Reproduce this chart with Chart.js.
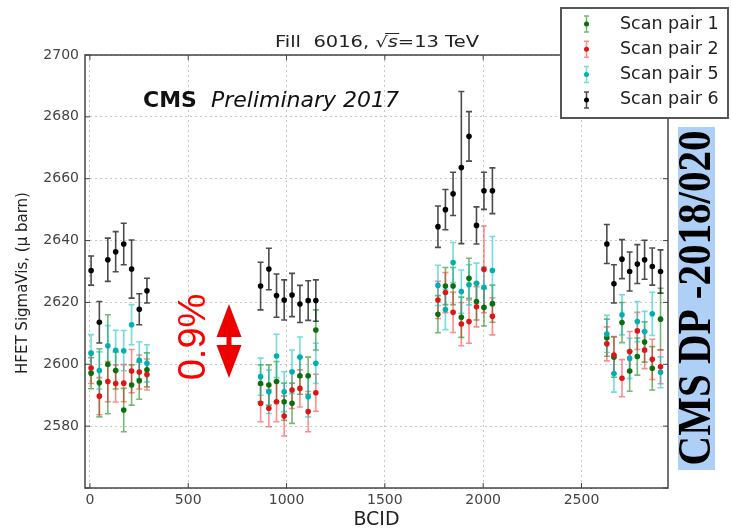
<!DOCTYPE html>
<html>
<head>
<meta charset="utf-8">
<script src="https://cdn.jsdelivr.net/npm/chart.js@4.4.1/dist/chart.umd.min.js"></script>
<style>
  html, body { margin: 0; padding: 0; background: #fff; }
  canvas { display: block; }
</style>
</head>
<body>
<canvas id="chart" width="731" height="531"></canvas>
<script>
// bunch crossing IDs, four trains of 8 bunches
const bcid = [
  6, 48, 91, 131, 172, 212, 251, 290,
  868, 910, 949, 988, 1028, 1068, 1110, 1149,
  1770, 1808, 1847, 1889, 1928, 1966, 2004, 2047,
  2629, 2665, 2706, 2745, 2784, 2821, 2860, 2902
];

const pair1 = [
  2597.1, 2594.0, 2600.0, 2598.0, 2585.2, 2593.3, 2594.7, 2598.2,
  2593.8, 2593.3, 2594.4, 2587.9, 2587.4, 2596.3, 2596.3, 2611.1,
  2616.2, 2625.3, 2625.3, 2615.2, 2627.8, 2620.3, 2618.4, 2619.6,
  2608.6, 2602.3, 2613.5, 2597.8, 2602.5, 2607.2, 2598.7, 2614.6
];
const pair1Err = [
  5, 11, 16, 6, 7, 6.5, 6, 5.5,
  6, 6.5, 6.5, 6, 6.5, 6, 6, 6.5,
  6, 6, 6, 6.5, 6.5, 6, 6, 6,
  6, 6.5, 6.5, 6.5, 6, 6.5, 7, 10
];

const pair2 = [
  2598.8, 2589.7, 2594.4, 2593.8, 2593.9, 2597.8, 2597.5, 2596.7,
  2587.4, 2585.8, 2587.9, 2583.3, 2591.7, 2592.2, 2584.7, 2590.8,
  2620.8, 2623.2, 2616.8, 2613.0, 2613.8, 2618.6, 2630.7, 2615.5,
  2606.6, 2603.0, 2595.5, 2604.1, 2610.8, 2604.6, 2601.6, 2599.2
];
const pair2Err = [
  5, 6, 6.5, 6, 6, 7, 5.5, 5,
  6, 6, 6.5, 6.5, 6, 6, 6.5, 6,
  6, 6.5, 6.5, 7, 7, 6.5, 14, 6,
  5.5, 6, 6, 6.5, 6, 6, 6.5, 5.5
];

const pair5 = [
  2603.6, 2598.0, 2606.0, 2604.5, 2604.4, 2612.8, 2601.3, 2600.3,
  2596.0, 2591.1, 2602.7, 2591.1, 2597.6, 2602.3, 2589.5, 2600.3,
  2625.5, 2617.7, 2632.9, 2623.5, 2625.7, 2626.2, 2624.9, 2630.3,
  2609.8, 2597.0, 2616.0, 2601.9, 2613.8, 2610.6, 2616.3, 2597.4
];
const pair5Err = [
  6, 6, 6.5, 6.5, 6.5, 6.5, 6, 6,
  6, 7, 7, 6.5, 7, 6.5, 6.5, 6.5,
  6.5, 6.5, 6.5, 7, 6.5, 6.5, 6.5, 11,
  6, 6, 6.5, 6.5, 6.5, 6.5, 7, 5
];

const pair6 = [
  2630.3, 2613.6, 2633.8, 2636.4, 2638.9, 2630.8, 2617.8, 2623.8,
  2625.3, 2630.8, 2622.2, 2620.8, 2622.4, 2619.5, 2620.6, 2620.6,
  2644.5, 2650.0, 2655.1, 2663.6, 2673.7, 2644.9, 2656.1, 2656.1,
  2638.9, 2626.0, 2634.0, 2630.0, 2632.4, 2633.8, 2631.6, 2630.0
];
const pair6Err = [
  4.7, 6.7, 7, 6.5, 6.7, 9.4, 5, 4,
  7.7, 6.7, 7, 6.5, 7, 6, 6.4, 6.7,
  6.7, 6.5, 7, 24.6, 8, 6, 6, 7.4,
  6.3, 6.2, 6.3, 6.3, 6.3, 6.3, 6, 7
];

const xTicks = [0, 500, 1000, 1500, 2000, 2500];
const yTicks = [2560, 2580, 2600, 2620, 2640, 2660, 2680, 2700];

const series = [
  { label: 'Scan pair 1', values: pair1, errors: pair1Err, dot: '#0b6f0b', bar: 'rgba(0,128,0,0.55)' },
  { label: 'Scan pair 2', values: pair2, errors: pair2Err, dot: '#e01414', bar: 'rgba(255,0,0,0.45)' },
  { label: 'Scan pair 5', values: pair5, errors: pair5Err, dot: '#00b0b0', bar: 'rgba(0,191,191,0.55)' },
  { label: 'Scan pair 6', values: pair6, errors: pair6Err, dot: '#000000', bar: 'rgba(0,0,0,0.7)' }
];

const FONT = '"DejaVu Sans", Arial, sans-serif';

function drawErrorBar(ctx, px, top, bot, cap) {
  ctx.beginPath();
  ctx.moveTo(px, top); ctx.lineTo(px, bot);
  ctx.moveTo(px - cap, top); ctx.lineTo(px + cap, top);
  ctx.moveTo(px - cap, bot); ctx.lineTo(px + cap, bot);
  ctx.stroke();
}

const decor = {
  id: 'decor',
  beforeDatasetsDraw(chart) {
    const { ctx, scales: { x, y } } = chart;
    ctx.save();
    ctx.lineWidth = 1.6;
    series.forEach(s => {
      ctx.strokeStyle = s.bar;
      bcid.forEach((b, i) => {
        const px = x.getPixelForValue(b);
        drawErrorBar(ctx, px,
          y.getPixelForValue(s.values[i] + s.errors[i]),
          y.getPixelForValue(s.values[i] - s.errors[i]), 3);
      });
    });
    ctx.restore();
  },
  afterDraw(chart) {
    const { ctx, chartArea: a, scales: { x, y } } = chart;
    ctx.save();

    // frame and inward ticks
    ctx.strokeStyle = '#444';
    ctx.lineWidth = 1.5;
    ctx.strokeRect(a.left, a.top, a.right - a.left, a.bottom - a.top);
    ctx.lineWidth = 1;
    ctx.beginPath();
    xTicks.forEach(v => {
      const px = x.getPixelForValue(v);
      ctx.moveTo(px, a.bottom); ctx.lineTo(px, a.bottom - 5);
      ctx.moveTo(px, a.top); ctx.lineTo(px, a.top + 5);
    });
    yTicks.forEach(v => {
      const py = y.getPixelForValue(v);
      ctx.moveTo(a.left, py); ctx.lineTo(a.left + 5, py);
      ctx.moveTo(a.right, py); ctx.lineTo(a.right - 5, py);
    });
    ctx.stroke();

    // title with sqrt(s), stretched to the run-label width
    ctx.save();
    ctx.fillStyle = '#222';
    ctx.textBaseline = 'alphabetic';
    ctx.textAlign = 'left';
    const t1 = 'Fill  6016, \u221A', t2 = 's', t3 = '=13 TeV';
    ctx.font = '15px ' + FONT;
    const w1 = ctx.measureText(t1).width;
    const w3 = ctx.measureText(t3).width;
    ctx.font = 'italic 15px ' + FONT;
    const w2 = ctx.measureText(t2).width;
    const total = w1 + w2 + w3;
    const sx = 204 / total;
    ctx.translate(377 - 102, 47);
    ctx.scale(sx, 1);
    ctx.font = '15px ' + FONT;
    ctx.fillText(t1, 0, 0);
    ctx.font = 'italic 15px ' + FONT;
    ctx.fillText(t2, w1, 0);
    ctx.font = '15px ' + FONT;
    ctx.fillText(t3, w1 + w2, 0);
    ctx.strokeStyle = '#222';
    ctx.lineWidth = 1;
    ctx.beginPath();
    ctx.moveTo(w1 - 2, -13.5); ctx.lineTo(w1 + w2 + 1, -13.5);
    ctx.stroke();
    ctx.restore();

    // CMS Preliminary 2017
    ctx.fillStyle = '#111';
    ctx.textAlign = 'left';
    ctx.font = 'bold 22px ' + FONT;
    ctx.fillText('CMS', 143, 107);
    ctx.font = 'italic 22px ' + FONT;
    ctx.fillText('Preliminary 2017', 211, 107);

    // y axis title
    ctx.save();
    ctx.translate(23, 283);
    ctx.rotate(-Math.PI / 2);
    ctx.textAlign = 'center';
    ctx.textBaseline = 'middle';
    ctx.fillStyle = '#222';
    ctx.font = '15px ' + FONT;
    ctx.fillText('HFET SigmaVis, (\u03BC barn)', 0, 0);
    ctx.restore();

    // 0.9% annotation with double arrow
    ctx.save();
    ctx.translate(193, 337);
    ctx.rotate(-Math.PI / 2);
    ctx.textAlign = 'center';
    ctx.textBaseline = 'middle';
    ctx.fillStyle = '#ff0000';
    ctx.font = '38px "Liberation Sans", Arial, sans-serif';
    ctx.fillText('0.9%', 0, 2);
    ctx.restore();
    ctx.fillStyle = '#ee0000';
    ctx.beginPath();
    ctx.moveTo(229, 304); ctx.lineTo(241.5, 337); ctx.lineTo(231.5, 337);
    ctx.lineTo(231.5, 345); ctx.lineTo(241.5, 345); ctx.lineTo(229, 378);
    ctx.lineTo(216.5, 345); ctx.lineTo(226.5, 345); ctx.lineTo(226.5, 337);
    ctx.lineTo(216.5, 337);
    ctx.closePath();
    ctx.fill();

    // legend box
    ctx.fillStyle = '#fff';
    ctx.fillRect(561, 8, 167, 110);
    ctx.strokeStyle = '#555';
    ctx.lineWidth = 2;
    ctx.strokeRect(561, 8, 167, 110);
    ctx.font = '17.5px ' + FONT;
    ctx.textAlign = 'left';
    ctx.textBaseline = 'middle';
    series.forEach((s, i) => {
      const cy = 24 + i * 25.3;
      ctx.strokeStyle = s.bar;
      ctx.lineWidth = 1.5;
      drawErrorBar(ctx, 586.5, cy - 8, cy + 8, 2.5);
      ctx.fillStyle = s.dot;
      ctx.beginPath(); ctx.arc(586.5, cy, 2.5, 0, Math.PI * 2); ctx.fill();
      ctx.fillStyle = '#222';
      ctx.fillText(s.label, 620, cy);
    });

    // document stamp on the right
    ctx.fillStyle = '#aed0f6';
    ctx.fillRect(678, 127, 37, 343);
    ctx.save();
    ctx.translate(697, 298);
    ctx.rotate(-Math.PI / 2);
    ctx.scale(1, 1.15);
    ctx.textAlign = 'center';
    ctx.textBaseline = 'middle';
    ctx.fillStyle = '#000';
    ctx.font = 'bold 41px "Liberation Serif", "Times New Roman", serif';
    ctx.fillText('CMS DP -2018/020', 0, 1);
    ctx.restore();

    ctx.restore();
  }
};

new Chart(document.getElementById('chart'), {
  type: 'scatter',
  data: {
    datasets: series.slice().reverse().map(s => ({
      label: s.label,
      data: bcid.map((b, i) => ({ x: b, y: s.values[i] })),
      backgroundColor: s.dot,
      borderColor: s.dot,
      pointRadius: 2.8,
      pointBorderWidth: 0
    }))
  },
  options: {
    responsive: false,
    animation: false,
    devicePixelRatio: 1,
    layout: { padding: { top: 55, right: 63, left: 0, bottom: 0 } },
    plugins: { legend: { display: false }, tooltip: { enabled: false } },
    scales: {
      x: {
        type: 'linear', min: -25, max: 2940,
        afterFit: s => { s.height = 43; },
        afterBuildTicks: s => { s.ticks = xTicks.map(v => ({ value: v })); },
        grid: { color: '#c8c8c8', drawTicks: false },
        border: { display: false, dash: [2, 3] },
        ticks: { padding: 4, color: '#444', font: { family: FONT, size: 14 }, callback: v => String(v) },
        title: { display: true, text: 'BCID', color: '#222', font: { family: FONT, size: 19 }, padding: { top: 0, bottom: 0 } }
      },
      y: {
        min: 2560, max: 2700,
        afterFit: s => { s.width = 85; },
        afterBuildTicks: s => { s.ticks = yTicks.map(v => ({ value: v })); },
        grid: { color: '#c8c8c8', drawTicks: false },
        border: { display: false, dash: [2, 3] },
        ticks: { padding: 6, color: '#444', font: { family: FONT, size: 14 }, callback: v => (v === 2560 ? '' : String(v)) }
      }
    }
  },
  plugins: [decor]
});
</script>
</body>
</html>
